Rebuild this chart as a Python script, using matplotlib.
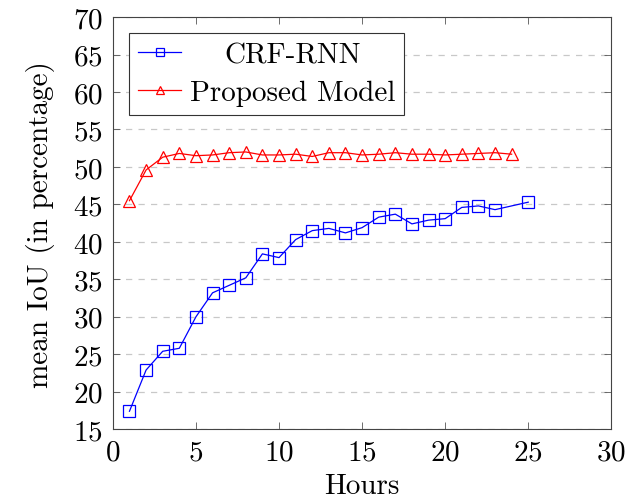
import matplotlib
matplotlib.use("Agg")
import matplotlib.pyplot as plt

plt.rcParams["font.family"] = "serif"
plt.rcParams["font.serif"] = ["cmr10"]
plt.rcParams["mathtext.fontset"] = "cm"
plt.rcParams["axes.formatter.use_mathtext"] = True

# data
crf_hours = [1, 2, 3, 4, 5, 6, 7, 8, 9, 10, 11, 12, 13, 14, 15, 16, 17, 18, 19, 20, 21, 22, 23, 25]
crf_iou = [17.4, 22.9, 25.4, 25.8, 30.0, 33.2, 34.2, 35.2, 38.4, 37.9, 40.3, 41.5,
           41.8, 41.2, 41.9, 43.3, 43.7, 42.4, 42.9, 43.1, 44.6, 44.8, 44.3, 45.3]
prop_hours = list(range(1, 25))
prop_iou = [45.5, 49.6, 51.3, 51.8, 51.5, 51.6, 51.9, 52.0, 51.6, 51.6, 51.7, 51.4,
            51.9, 51.9, 51.6, 51.7, 51.9, 51.7, 51.7, 51.6, 51.7, 51.8, 51.9, 51.7]

FS = 21

fig = plt.figure(figsize=(6.27, 5.02), dpi=100)
ax = fig.add_axes([0.180, 0.143, 0.795, 0.821])

ax.plot(crf_hours, crf_iou, color="#0000ff", lw=0.9, marker="s", markersize=9,
        markerfacecolor="none", markeredgecolor="#0000ff", markeredgewidth=0.9,
        label="CRF-RNN")
ax.plot(prop_hours, prop_iou, color="#ff0000", lw=0.9, marker="^", markersize=8,
        markerfacecolor="none", markeredgecolor="#ff0000", markeredgewidth=0.9,
        label="Proposed Model")

ax.set_xlim(0, 30)
ax.set_ylim(15, 70)
ax.set_xticks(range(0, 31, 5))
ax.set_yticks(range(15, 71, 5))
ax.yaxis.grid(True, linestyle=(0, (5, 5)), color="#c8c8c8", lw=0.9)
ax.set_axisbelow(True)
ax.tick_params(direction="in", top=True, right=True, labelsize=FS, length=5,
               width=0.6, color="#555555", pad=7)
for s in ax.spines.values():
    s.set_linewidth(0.8)
    s.set_color("#444444")

ax.set_xlabel("Hours", fontsize=FS, labelpad=5)
ax.set_ylabel("mean IoU (in percentage)", fontsize=FS, labelpad=13)

leg = ax.legend(loc="upper left", fontsize=FS, fancybox=False, edgecolor="#333333",
                framealpha=1, borderaxespad=0.55, handlelength=1.5,
                labelspacing=0.4, borderpad=0.3, handletextpad=0.3)
leg.get_frame().set_linewidth(0.8)
for h in leg.legend_handles:
    h.set_markersize(6)

# pgfplots centres the legend labels; shift the short one to match
fig.canvas.draw()
r = fig.canvas.get_renderer()
texts = leg.get_texts()
widths = [t.get_window_extent(r).width for t in texts]
wmax = max(widths)
for t, w in zip(texts, widths):
    t.set_position(((wmax - w) / 2, 0))

fig.savefig("out.png", dpi=100)
